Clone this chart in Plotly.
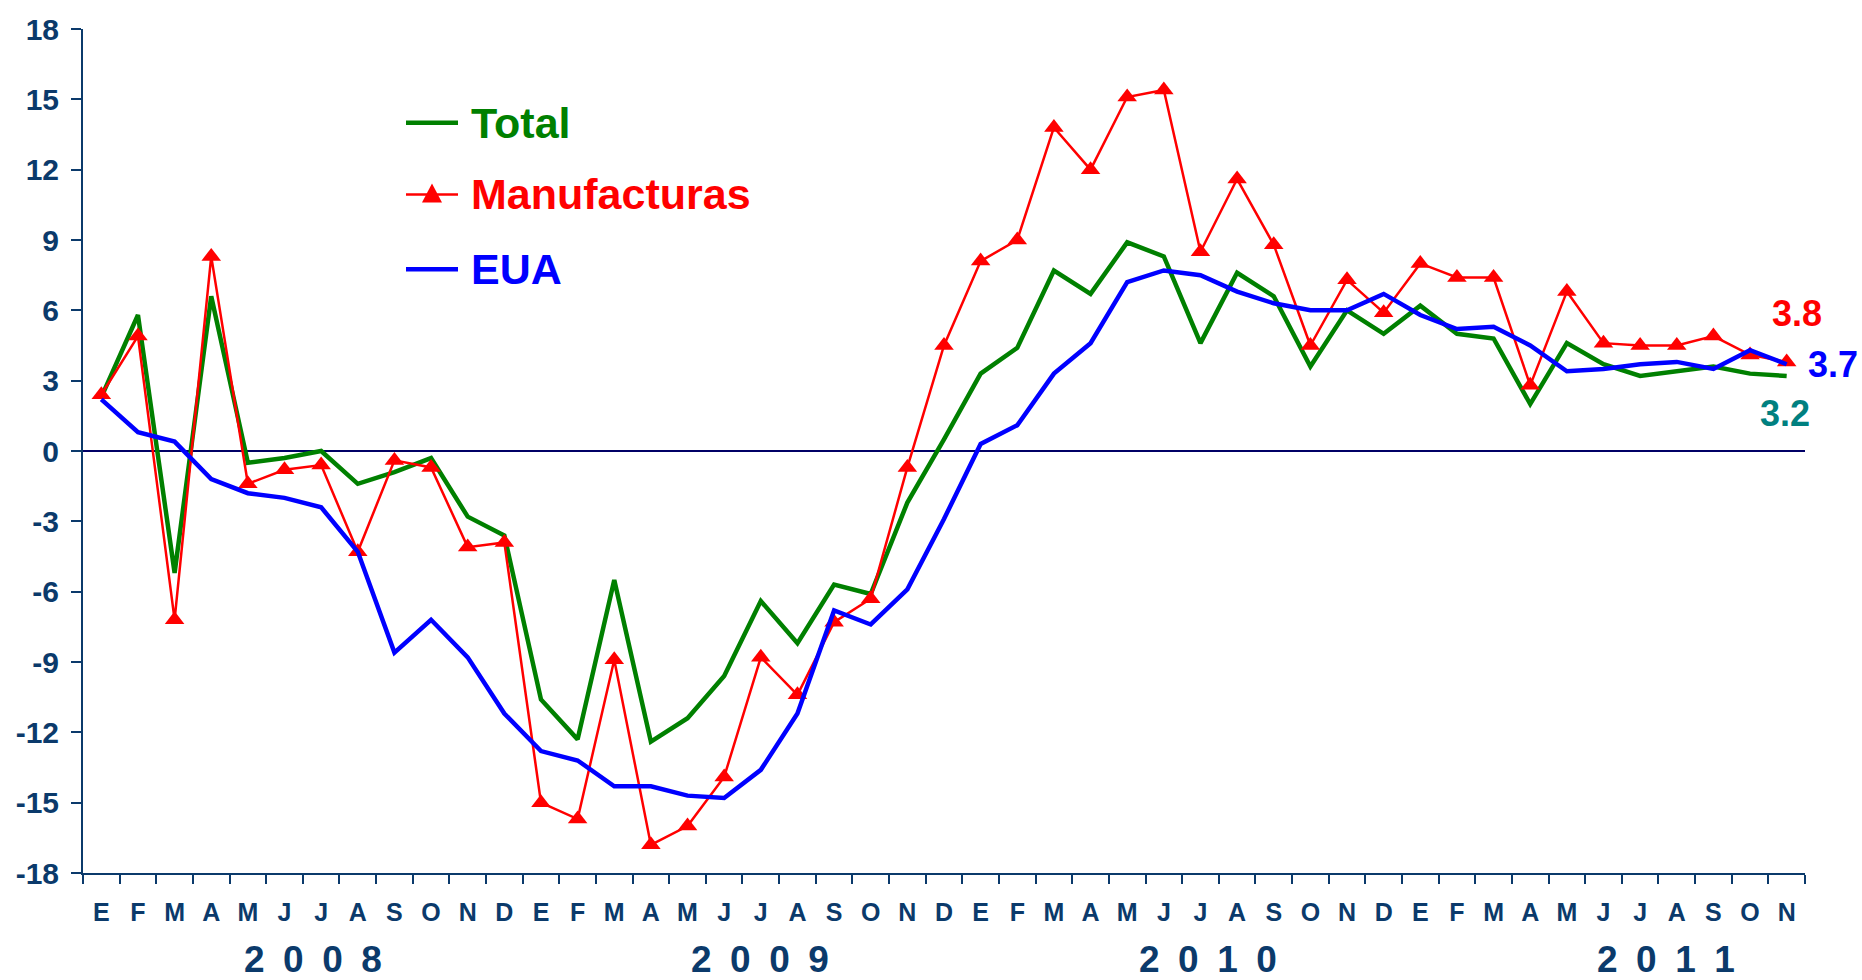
import plotly.graph_objects as go

# ---------------- data ----------------
months = ["E", "F", "M", "A", "M", "J", "J", "A", "S", "O", "N", "D"] * 3 + \
         ["E", "F", "M", "A", "M", "J", "J", "A", "S", "O", "N"]
years = ["2008", "2009", "2010", "2011"]

total = [2.3, 5.8, -5.2, 6.6, -0.5, -0.3, 0.0, -1.4, -0.9, -0.3, -2.8, -3.6,
         -10.6, -12.3, -5.5, -12.4, -11.4, -9.6, -6.4, -8.2, -5.7, -6.1, -2.2, 0.5,
         3.3, 4.4, 7.7, 6.7, 8.9, 8.3, 4.6, 7.6, 6.6, 3.6, 6.0, 5.0,
         6.2, 5.0, 4.8, 2.0, 4.6, 3.7, 3.2, 3.4, 3.6, 3.3, 3.2]

manufacturas = [2.4, 4.9, -7.2, 8.3, -1.4, -0.8, -0.6, -4.3, -0.4, -0.7, -4.1, -3.9,
                -15.0, -15.7, -8.9, -16.8, -16.0, -13.9, -8.8, -10.4, -7.3, -6.3, -0.7, 4.5,
                8.1, 9.0, 13.8, 12.0, 15.1, 15.4, 8.5, 11.6, 8.8, 4.5, 7.3, 5.9,
                8.0, 7.4, 7.4, 2.8, 6.8, 4.6, 4.5, 4.5, 4.9, 4.1, 3.8]

eua = [2.2, 0.8, 0.4, -1.2, -1.8, -2.0, -2.4, -4.3, -8.6, -7.2, -8.8, -11.2,
       -12.8, -13.2, -14.3, -14.3, -14.7, -14.8, -13.6, -11.2, -6.8, -7.4, -5.9, -2.9,
       0.3, 1.1, 3.3, 4.6, 7.2, 7.7, 7.5, 6.8, 6.3, 6.0, 6.0, 6.7,
       5.8, 5.2, 5.3, 4.5, 3.4, 3.5, 3.7, 3.8, 3.5, 4.3, 3.7]

y_ticks = [-18, -15, -12, -9, -6, -3, 0, 3, 6, 9, 12, 15, 18]
y_ticktext = [str(v) for v in y_ticks]

# ---------------- styling ----------------
NAVY = "#0b3a6b"
GREEN = "#008000"
RED = "#ff0000"
BLUE = "#0000ff"
TEAL = "#008080"
FONT = "Liberation Sans, Arial, sans-serif"

x = list(range(len(months)))

fig = go.Figure()
fig.add_trace(go.Scatter(x=x, y=total, mode="lines", name="Total",
                         line=dict(color=GREEN, width=4.5)))
fig.add_trace(go.Scatter(x=x, y=manufacturas, mode="lines+markers", name="Manufacturas",
                         line=dict(color=RED, width=2.5),
                         marker=dict(symbol="triangle-up", size=17, color=RED)))
fig.add_trace(go.Scatter(x=x, y=eua, mode="lines", name="EUA",
                         line=dict(color=BLUE, width=4.5)))

W, H = 1862, 980
L, R, T, B = 83, 57, 26, 107
pw, ph = W - L - R, H - T - B


def px2paper(px, py):
    return (px - L) / pw, (H - B - py) / ph


shapes = []
annotations = []

# manual legend
legend_items = [("Total", GREEN, 4.5, 120), ("Manufacturas", RED, 2.5, 192), ("EUA", BLUE, 4.5, 267)]
for name, col, wdt, py in legend_items:
    x0, y0 = px2paper(406, py)
    x1, _ = px2paper(458, py)
    shapes.append(dict(type="line", xref="paper", yref="paper", x0=x0, x1=x1, y0=y0, y1=y0,
                       line=dict(color=col, width=wdt)))
    tx, _ = px2paper(469, py)
    annotations.append(dict(xref="paper", yref="paper", x=tx, y=y0, text=name, showarrow=False,
                            xanchor="left", yanchor="middle",
                            font=dict(family=FONT, size=43, color=col, weight="bold")))
# triangle in legend
cx, cy = 432, 191
pts = [(cx - 10, cy + 9), (cx + 10, cy + 9), (cx, cy - 10)]
pp = [px2paper(a, b) for a, b in pts]
path = "M{:.5f},{:.5f} L{:.5f},{:.5f} L{:.5f},{:.5f} Z".format(pp[0][0], pp[0][1], pp[1][0], pp[1][1], pp[2][0], pp[2][1])
shapes.append(dict(type="path", xref="paper", yref="paper", path=path,
                   fillcolor=RED, line=dict(color=RED, width=0)))

# end labels (paper coordinates so they are not hidden outside the x range)
for txt, col, (pxx, pyy) in [("3.8", RED, (1797, 312)), ("3.7", BLUE, (1833, 363)), ("3.2", TEAL, (1785, 412))]:
    ax, ay = px2paper(pxx, pyy)
    annotations.append(dict(xref="paper", yref="paper", x=ax, y=ay, text=txt, showarrow=False,
                            xanchor="center", yanchor="middle",
                            font=dict(family=FONT, size=36, color=col, weight="bold")))

# year labels
year_x = [5.78, 17.98, 30.2, 42.7]
_, ypaper = px2paper(0, 960)
for yr, xv in zip(years, year_x):
    annotations.append(dict(x=xv, xref="x", y=ypaper, yref="paper", text="\u2002".join(yr),
                            showarrow=False, yanchor="middle",
                            font=dict(family=FONT, size=37, color=NAVY, weight="bold")))

fig.update_layout(
    width=W, height=H,
    margin=dict(l=L, r=R, t=T, b=B),
    paper_bgcolor="white", plot_bgcolor="white",
    showlegend=False,
    shapes=shapes,
    annotations=annotations,
    xaxis=dict(
        range=[-0.5, len(months) - 0.5],
        tickmode="array", tickvals=x, ticktext=months,
        ticks="", showgrid=False, zeroline=False,
        showline=True, linecolor=NAVY, linewidth=2,
        tickfont=dict(family=FONT, size=25, color=NAVY, weight="bold"),
        ticklabelstandoff=16,
        minor=dict(tick0=-0.5, dtick=1, ticks="outside", ticklen=9, tickcolor=NAVY, tickwidth=1.5,
                   showgrid=False),
    ),
    yaxis=dict(
        range=[-18, 18],
        tickmode="array", tickvals=y_ticks, ticktext=y_ticktext,
        ticks="outside", ticklen=10, tickcolor=NAVY, tickwidth=1.5,
        showgrid=False,
        zeroline=True, zerolinecolor="#000066", zerolinewidth=1.5,
        showline=True, linecolor=NAVY, linewidth=2,
        tickfont=dict(family=FONT, size=30, color=NAVY, weight="bold"),
        ticklabelstandoff=6,
    ),
)

fig.write_html("out.html", config={"displayModeBar": False},
               post_script="document.body.style.margin='0px';")
